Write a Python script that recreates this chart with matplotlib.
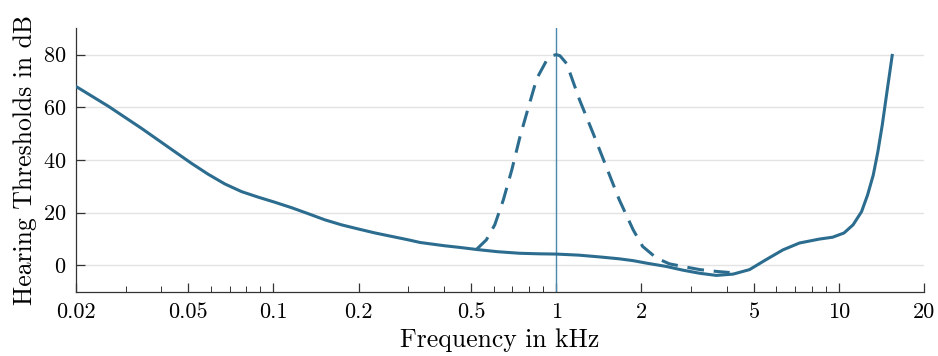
import matplotlib
matplotlib.use('Agg')
import matplotlib.pyplot as plt

# Ruhehörschwelle und Mithörschwelle eines 1-kHz-Maskierers
freq_thr = [0.02, 0.0261, 0.0342, 0.0449, 0.0514, 0.0588, 0.0674, 0.0772,
            0.0884, 0.101, 0.116, 0.133, 0.152, 0.174, 0.2, 0.229, 0.262,
            0.3, 0.33, 0.4, 0.458, 0.522, 0.62, 0.744, 0.87, 1.0, 1.2, 1.43,
            1.67, 1.87, 2.1, 2.45, 2.8, 3.22, 3.68, 4.22, 4.82, 5.52, 6.33,
            7.24, 8.52, 9.48, 10.4, 11.2, 12.0, 12.6, 13.2, 13.7, 14.2,
            14.7, 15.4]
thr_db = [68.0, 60.4, 52.0, 43.1, 38.7, 34.6, 30.9, 28.0,
          25.9, 24.0, 21.9, 19.6, 17.3, 15.4, 13.8, 12.3, 11.0,
          9.7, 8.7, 7.5, 6.8, 6.05, 5.2, 4.6, 4.4, 4.3, 3.9, 3.2,
          2.5, 1.8, 0.8, -0.4, -1.8, -3.0, -3.8, -3.3, -1.6, 2.2, 5.9,
          8.5, 10.0, 10.7, 12.3, 15.4, 20.4, 26.7, 34.3, 43.1, 53.2,
          64.6, 79.7]

freq_mask = [0.522, 0.566, 0.606, 0.65, 0.696, 0.744, 0.798, 0.853, 0.924,
             0.96, 1.0, 1.03, 1.088, 1.21, 1.35, 1.51, 1.67, 1.87, 2.02,
             2.26, 2.51, 2.8, 3.22, 3.7, 4.1]
mask_db = [6.05, 9.7, 15.4, 24.9, 36.2, 48.8, 60.2, 70.9, 77.8,
           79.5, 80.0, 79.6, 76.6, 62.7, 50.1, 36.8, 24.9, 13.5, 7.2,
           2.8, 0.6, -0.4, -1.6, -2.3, -2.7]

masker_freq = 1.0

xticks = [0.02, 0.05, 0.1, 0.2, 0.5, 1, 2, 5, 10, 20]
xticklabels = ['0.02', '0.05', '0.1', '0.2', '0.5', '1', '2', '5', '10', '20']
xminor = [0.03, 0.04, 0.06, 0.07, 0.08, 0.09, 0.3, 0.4, 0.6, 0.7, 0.8, 0.9,
          3, 4, 6, 7, 8, 9]
yticks = [0, 20, 40, 60, 80]

plt.rcParams['font.family'] = ['cmr10', 'DejaVu Serif']
plt.rcParams['axes.formatter.use_mathtext'] = True
plt.rcParams['mathtext.fontset'] = 'cm'

col = '#2c6d8f'

fig = plt.figure(figsize=(9.38, 3.56), dpi=100)
ax = fig.add_axes([0.0807, 0.179, 0.9047, 0.7415])

ax.axvline(masker_freq, color='#4a88ad', lw=1.0, zorder=2)
ax.plot(freq_thr, thr_db, color=col, lw=2.2, zorder=3)
ax.plot(freq_mask, mask_db, color=col, lw=2.2, zorder=3,
        linestyle=(0, (5.5, 3.2)))

ax.set_xscale('log')
ax.set_xlim(0.02, 20)
ax.set_ylim(-10.2, 90)

ax.set_xticks(xticks)
ax.set_xticklabels(xticklabels)
ax.set_xticks(xminor, minor=True)
ax.set_xticklabels([], minor=True)
ax.set_yticks(yticks)

ax.grid(axis='y', color='#e3e3e3', lw=1.0)
ax.set_axisbelow(True)

for s in ['top', 'right']:
    ax.spines[s].set_visible(False)
for s in ['left', 'bottom']:
    ax.spines[s].set_color('#333333')
    ax.spines[s].set_linewidth(0.9)

ax.tick_params(which='major', direction='in', length=6.5, width=0.9,
               color='#333333', labelsize=16, pad=7)
ax.tick_params(which='minor', direction='in', length=4, width=0.7,
               color='#333333')

ax.set_xlabel('Frequency in kHz', fontsize=18.5, labelpad=5)
ax.set_ylabel('Hearing Thresholds in dB', fontsize=18.5, labelpad=4)

fig.savefig('out.png', dpi=100)
